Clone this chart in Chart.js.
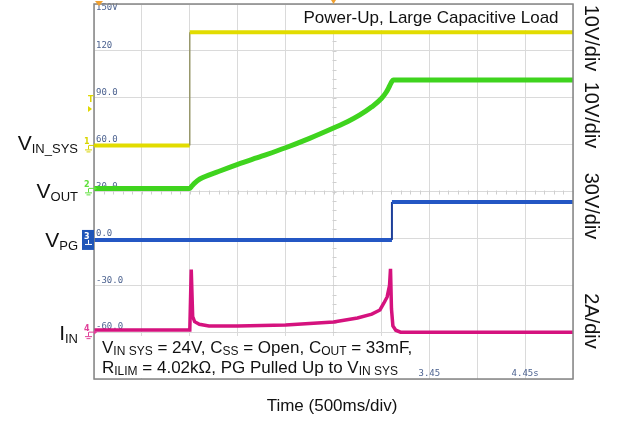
<!DOCTYPE html>
<html><head><meta charset="utf-8">
<script src="https://cdn.jsdelivr.net/npm/chart.js@4.4.0/dist/chart.umd.min.js"></script>
<style>html,body{margin:0;padding:0;background:#fff;}canvas{display:block;}</style>
</head><body>
<canvas id="c" width="618" height="430"></canvas>
<script>
// ---- data (x in time divisions, 500 ms/div; y in scope volts-scale units) ----
const xTickValues = [0,1,2,3,4,5,6,7,8,9,10];
const xTickLabels = ['', '0.45', '', '1.45', '', '2.45', '', '3.45', '', '4.45s', ''];
const yTickValues = [-90,-60,-30,0,30,60,90,120,150];
const yTickLabels = ['', '-60.0', '-30.0', '0.0', '30.0', '60.0', '90.0', '120', '150V'];

const vinTime = [0, 2.0, 2.0, 10];
const vinSys  = [59.5, 59.5, 132, 132];

const voutTime = [0, 2.0, 2.04, 2.1, 2.21, 2.6, 3.0, 3.5, 4.0, 4.5, 5.0, 5.3, 5.55, 5.8, 6.0, 6.1, 6.17, 6.22, 6.25, 10];
const vout     = [32, 32, 33.4, 35.4, 38.0, 42.8, 47.4, 52.6, 58, 64, 70.6, 74.8, 79, 84.2, 89.5, 93.5, 97.5, 100.5, 101.4, 101.4];

const pgTime = [0, 6.22, 6.22, 10];
const vpg    = [-1, -1, 23.3, 23.3];

const iinTime = [0, 2.0, 2.03, 2.06, 2.1, 2.2, 2.4, 3.0, 4.0, 4.5, 5.0, 5.5, 5.8, 5.97, 6.05, 6.12, 6.17, 6.19, 6.21, 6.24, 6.3, 6.4, 10];
const iin     = [-58.6, -58.6, -20, -50, -53.3, -55, -56, -56, -55.5, -54.5, -53.5, -51, -48.5, -45.8, -41.5, -37.5, -30, -19.5, -45, -56, -58.8, -60, -60];

const pts = (xs, ys) => xs.map((x, i) => ({x, y: ys[i]}));
const vertical = (w, c) => ({
  borderWidth: ctx => ctx.p0.parsed.x === ctx.p1.parsed.x ? w : undefined,
  borderColor: ctx => ctx.p0.parsed.x === ctx.p1.parsed.x ? c : undefined
});

const SANS = '"Liberation Sans", Arial, sans-serif';
function drawRich(ctx, parts, x, y, align) {
  let w = 0;
  parts.forEach(p => { ctx.font = p[1] + 'px ' + SANS; w += ctx.measureText(p[0]).width; });
  let cx = align === 'right' ? x - w : (align === 'center' ? x - w / 2 : x);
  ctx.textAlign = 'left';
  ctx.textBaseline = 'alphabetic';
  parts.forEach(p => {
    ctx.font = p[1] + 'px ' + SANS;
    ctx.fillText(p[0], cx, y + (p[2] || 0));
    cx += ctx.measureText(p[0]).width;
  });
}

const scopePlugin = {
  id: 'scope',
  beforeDatasetsDraw(chart) {
    const {ctx, chartArea: a, scales: {x, y}} = chart;
    ctx.save();
    // minor ticks on center cross lines
    ctx.strokeStyle = '#cfcfcf';
    ctx.lineWidth = 1;
    const yc = Math.round(y.getPixelForValue(30)) + 0.5;
    const xc = Math.round(x.getPixelForValue(5)) + 0.5;
    for (let d = 0; d <= 10; d += 0.2) {
      const px = Math.round(x.getPixelForValue(d)) + 0.5;
      ctx.beginPath(); ctx.moveTo(px, yc - 2); ctx.lineTo(px, yc + 2); ctx.stroke();
    }
    for (let v = -90; v <= 150; v += 6) {
      const py = Math.round(y.getPixelForValue(v)) + 0.5;
      ctx.beginPath(); ctx.moveTo(xc - 2, py); ctx.lineTo(xc + 2, py); ctx.stroke();
    }
    // scope y labels
    ctx.fillStyle = '#4d6390';
    ctx.font = '9px "DejaVu Sans Mono", monospace';
    ctx.textAlign = 'left';
    ctx.textBaseline = 'middle';
    yTickValues.forEach((v, i) => {
      const py = y.getPixelForValue(v);
      const off = (v === 150) ? 4 : -5;
      ctx.fillText(yTickLabels[i], a.left + 2, py + off);
    });
    // scope x labels
    ctx.textAlign = 'center';
    xTickValues.forEach((v, i) => {
      ctx.fillText(xTickLabels[i], x.getPixelForValue(v), a.bottom - 5);
    });
    ctx.restore();
  },
  afterDraw(chart) {
    const {ctx, chartArea: a} = chart;
    ctx.save();
    // frame
    ctx.strokeStyle = '#858585';
    ctx.lineWidth = 1.5;
    ctx.strokeRect(a.left, a.top, a.right - a.left, a.bottom - a.top);

    // annotation boxes
    ctx.fillStyle = '#ffffff';
    ctx.fillRect(295, a.top + 1, a.right - 296, 25);
    ctx.fillRect(a.left + 1, 336, 319, a.bottom - 337);
    ctx.fillStyle = '#111';
    ctx.font = '17px ' + SANS;
    ctx.textAlign = 'center';
    ctx.textBaseline = 'alphabetic';
    ctx.fillText('Power-Up, Large Capacitive Load', 431, 23);

    drawRich(ctx, [['V',17],['IN SYS',12,2],[' = 24V, C',17],['SS',12,2],[' = Open, C',17],['OUT',12,2],[' = 33mF,',17]], 102, 353, 'left');
    drawRich(ctx, [['R',17],['ILIM',12,2],[' = 4.02k\u03A9, PG Pulled Up to V',17],['IN SYS',12,2]], 102, 373, 'left');

    // left channel labels
    drawRich(ctx, [['V',21],['IN_SYS',13,3]], 78, 150, 'right');
    drawRich(ctx, [['V',21],['OUT',13,3]], 78, 198, 'right');
    drawRich(ctx, [['V',21],['PG',13,3]], 78, 247, 'right');
    drawRich(ctx, [['I',21],['IN',13,3]], 78, 340, 'right');

    // x-axis title
    ctx.font = '17px ' + SANS;
    ctx.textAlign = 'center';
    ctx.fillText('Time (500ms/div)', 332, 411);

    // right rotated scale labels
    const rl = [['10V/div', 38], ['10V/div', 115], ['30V/div', 206], ['2A/div', 321]];
    ctx.font = '20px ' + SANS;
    rl.forEach(([t, cy]) => {
      ctx.save();
      ctx.translate(591, cy);
      ctx.rotate(Math.PI / 2);
      ctx.textAlign = 'center';
      ctx.textBaseline = 'middle';
      ctx.fillText(t, 0, 0);
      ctx.restore();
    });

    // channel markers
    ctx.font = 'bold 8px "DejaVu Sans", sans-serif';
    ctx.textAlign = 'left';
    ctx.textBaseline = 'middle';
    const marks = [[59.5, '#d8d400', '1'], [32, '#5fe03c', '2'], [-60, '#e0409a', '4']];
    const ys = chart.scales.y;
    marks.forEach(([v, c, n]) => {
      const py = ys.getPixelForValue(v);
      ctx.fillStyle = c; ctx.strokeStyle = c; ctx.lineWidth = 1;
      ctx.fillText(n, 84, py - 3);
      ctx.beginPath(); ctx.moveTo(89, py); ctx.lineTo(94, py); ctx.stroke();
      ctx.beginPath(); ctx.moveTo(94, py - 2.5); ctx.lineTo(97, py); ctx.lineTo(94, py + 2.5); ctx.fill();
      ctx.beginPath(); ctx.moveTo(88.5, py); ctx.lineTo(88.5, py + 4);
      ctx.moveTo(85, py + 4.5); ctx.lineTo(92, py + 4.5);
      ctx.moveTo(86.5, py + 6.5); ctx.lineTo(90.5, py + 6.5); ctx.stroke();
    });
    const pb = ys.getPixelForValue(-1);
    ctx.fillStyle = '#1f55b8';
    ctx.fillRect(82, pb - 10, 12, 20);
    ctx.fillStyle = '#ffffff';
    ctx.fillText('3', 84, pb - 3);
    ctx.strokeStyle = '#ffffff';
    ctx.beginPath(); ctx.moveTo(88.5, pb); ctx.lineTo(88.5, pb + 4);
    ctx.moveTo(85, pb + 4.5); ctx.lineTo(92, pb + 4.5); ctx.stroke();
    // trigger level marker
    ctx.fillStyle = '#e0d800';
    ctx.fillText('T', 88, 100);
    ctx.beginPath(); ctx.moveTo(88, 106); ctx.lineTo(92, 109); ctx.lineTo(88, 112); ctx.fill();
    // trigger position markers (orange)
    ctx.fillStyle = '#f0a030';
    ctx.beginPath(); ctx.moveTo(95, 1); ctx.lineTo(103, 1); ctx.lineTo(99, 6); ctx.fill();
    ctx.beginPath(); ctx.moveTo(331, 0); ctx.lineTo(336, 0); ctx.lineTo(333.5, 4); ctx.fill();
    ctx.restore();
  }
};

new Chart(document.getElementById('c'), {
  type: 'line',
  data: {
    datasets: [
      { label: 'VIN_SYS', data: pts(vinTime, vinSys), borderColor: '#e2dc00', borderWidth: 4, pointRadius: 0, segment: vertical(1.3, '#8c8c5a') },
      { label: 'VOUT', data: pts(voutTime, vout), borderColor: '#3fd41e', borderWidth: 5, pointRadius: 0, cubicInterpolationMode: 'monotone' },
      { label: 'VPG', data: pts(pgTime, vpg), borderColor: '#2457c4', borderWidth: 4, pointRadius: 0, segment: vertical(2, '#1d3f99') },
      { label: 'IIN', data: pts(iinTime, iin), borderColor: '#d5127e', borderWidth: 3.5, pointRadius: 0 }
    ]
  },
  options: {
    responsive: false,
    animation: false,
    devicePixelRatio: 1,
    layout: { padding: { left: 94, top: 4, right: 45, bottom: 51 } },
    plugins: { legend: { display: false }, tooltip: { enabled: false } },
    scales: {
      x: {
        type: 'linear', min: 0, max: 10,
        afterBuildTicks: s => { s.ticks = xTickValues.map(v => ({ value: v })); },
        afterFit: s => { s.height = 0; },
        ticks: { display: false },
        grid: { color: '#dadada', drawTicks: false },
        border: { display: false }
      },
      y: {
        type: 'linear', min: -90, max: 150,
        afterBuildTicks: s => { s.ticks = yTickValues.map(v => ({ value: v })); },
        afterFit: s => { s.width = 0; },
        ticks: { display: false },
        grid: { color: '#dadada', drawTicks: false },
        border: { display: false }
      }
    }
  },
  plugins: [scopePlugin]
});
</script>
</body></html>
